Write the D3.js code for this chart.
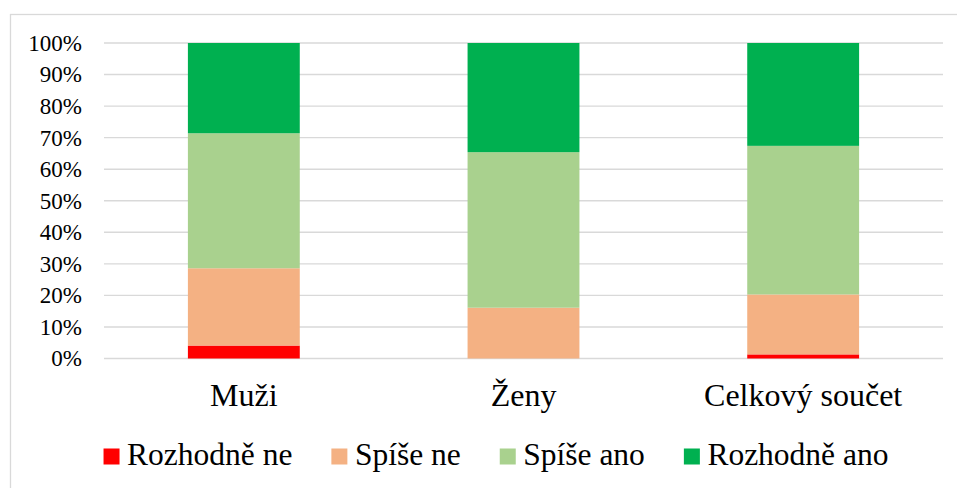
<!DOCTYPE html>
<html>
<head>
<meta charset="utf-8">
<script src="https://cdn.jsdelivr.net/npm/d3@7"></script>
<style>
  body { margin: 0; background: #fff; }
  svg text { font-family: 'Liberation Serif', 'Times New Roman', Times, serif; }
</style>
</head>
<body>
<div id="chart"></div>
<script>
// categories and series (percent shares)
var categories = ['Muži', 'Ženy', 'Celkový součet'];
var seriesNames = ['Rozhodně ne', 'Spíše ne', 'Spíše ano', 'Rozhodně ano'];
var rozhodneNe = [4.1, 0, 1.3];
var spiseNe = [24.5, 16.1, 19.0];
var spiseAno = [42.8, 49.3, 47.1];
var rozhodneAno = [28.6, 34.6, 32.6];
var yTicks = [0, 10, 20, 30, 40, 50, 60, 70, 80, 90, 100];
var colors = ['#FF0000', '#F4B183', '#A9D18E', '#00B050'];

var width = 957, height = 488;
var margin = {top: 43, right: 14, bottom: 129.5, left: 104};
var serif = "'Liberation Serif', 'Times New Roman', serif";

var svg = d3.select('#chart').append('svg')
    .attr('width', width)
    .attr('height', height)
    .style('display', 'block');

// chart area border (only top/left edge visible)
svg.append('rect')
    .attr('x', 10.5).attr('y', 14.5)
    .attr('width', width + 20).attr('height', height + 20)
    .attr('fill', 'none')
    .attr('stroke', '#d9d9d9')
    .attr('stroke-width', 1.3);

// build table for stacking
var table = categories.map(function(c, i) {
    return {
        cat: c,
        'Rozhodně ne': rozhodneNe[i],
        'Spíše ne': spiseNe[i],
        'Spíše ano': spiseAno[i],
        'Rozhodně ano': rozhodneAno[i]
    };
});
var stacked = d3.stack().keys(seriesNames)(table);

var x = d3.scaleBand()
    .domain(categories)
    .range([margin.left, width - margin.right])
    .paddingInner(0.6)
    .paddingOuter(0.3);

var y = d3.scaleLinear()
    .domain([0, 100])
    .range([height - margin.bottom, margin.top]);

// gridlines
svg.append('g')
    .selectAll('line')
    .data(yTicks)
    .join('line')
    .attr('x1', margin.left)
    .attr('x2', width - margin.right)
    .attr('y1', function(d) { return y(d); })
    .attr('y2', function(d) { return y(d); })
    .attr('stroke', '#d9d9d9')
    .attr('stroke-width', 1.4);

// y axis labels
var yAxis = d3.axisLeft(y)
    .tickValues(yTicks)
    .tickFormat(function(d) { return d + '%'; })
    .tickSize(0)
    .tickPadding(22);
var gy = svg.append('g')
    .attr('transform', 'translate(' + margin.left + ',0)')
    .call(yAxis);
gy.select('.domain').remove();
gy.attr('font-family', serif);
gy.selectAll('text')
    .style('font-family', serif)
    .style('font-size', '23px')
    .attr('fill', '#000');

// stacked bars
svg.append('g')
    .selectAll('g')
    .data(stacked)
    .join('g')
    .attr('fill', function(d, i) { return colors[i]; })
    .selectAll('rect')
    .data(function(d) { return d; })
    .join('rect')
    .attr('x', function(d) { return x(d.data.cat); })
    .attr('width', x.bandwidth())
    .attr('y', function(d) { return y(d[1]); })
    .attr('height', function(d) { return y(d[0]) - y(d[1]); });

// x axis labels
var xAxis = d3.axisBottom(x).tickSize(0).tickPadding(25);
var gx = svg.append('g')
    .attr('transform', 'translate(0,' + y(0) + ')')
    .call(xAxis);
gx.select('.domain').remove();
gx.attr('font-family', serif);
gx.selectAll('text')
    .style('font-family', serif)
    .style('font-size', '32px')
    .attr('fill', '#000');

// legend
var legend = svg.append('g');
var sw = 16, gapText = 7.5, gapItem = 39;
var cursor = 0;
seriesNames.forEach(function(name, i) {
    var item = legend.append('g').attr('transform', 'translate(' + cursor + ',0)');
    item.append('rect')
        .attr('x', 0).attr('y', -16.5)
        .attr('width', sw).attr('height', sw)
        .attr('fill', colors[i]);
    var t = item.append('text')
        .attr('x', sw + gapText)
        .attr('y', 0)
        .style('font-family', serif)
        .style('font-size', '31.5px')
        .attr('fill', '#000')
        .text(name);
    cursor += sw + gapText + t.node().getComputedTextLength() + gapItem;
});
var legendWidth = cursor - gapItem;
legend.attr('transform', 'translate(' + (496 - legendWidth / 2) + ',465)');
</script>
</body>
</html>
